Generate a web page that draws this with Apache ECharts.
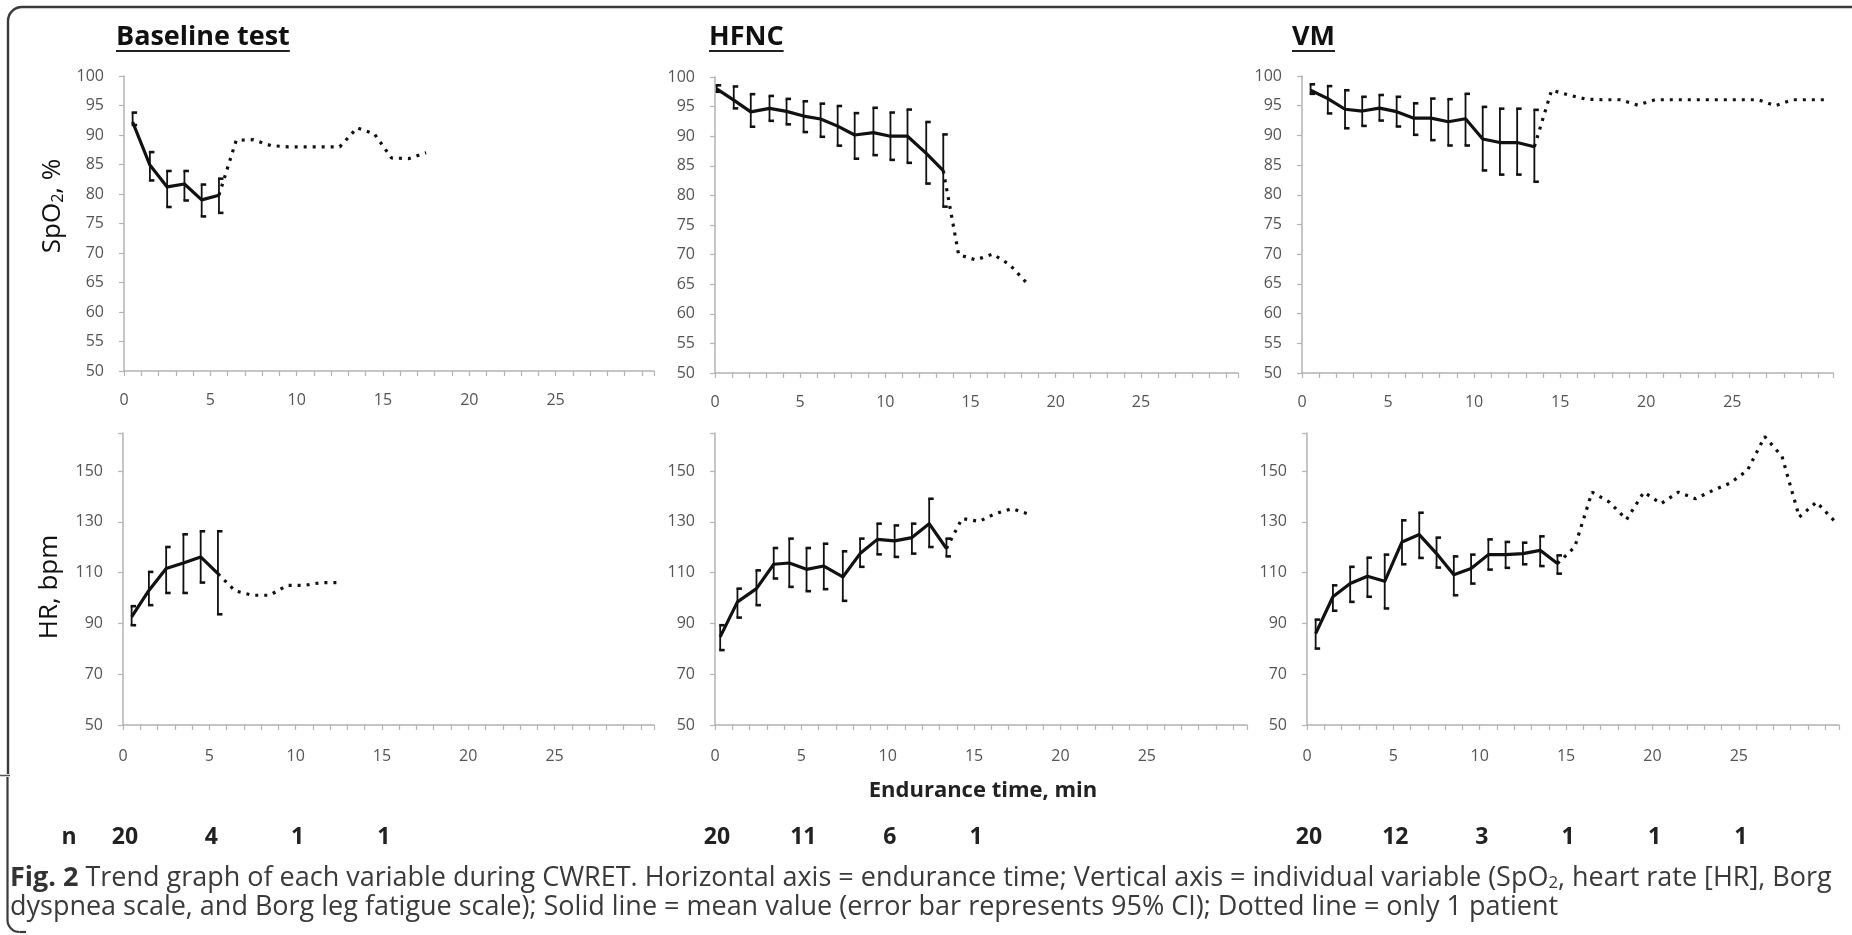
<!DOCTYPE html>
<html><head><meta charset="utf-8">
<script src="https://cdn.jsdelivr.net/npm/echarts@6/dist/echarts.min.js"></script>
<style>html,body{margin:0;padding:0;background:#fff}#c{width:1852px;height:935px}</style>
</head><body><div id="c"></div>
<script>
// ---------------- DATA ----------------
const panelTitles = ['Baseline test', 'HFNC', 'VM'];
const xTickLabels = [0, 5, 10, 15, 20, 25];
const xTitle = 'Endurance time, min';

// Baseline test – SpO2
const baseSpo2X = [0.5, 1.5, 2.5, 3.5, 4.5, 5.5];
const baseSpo2Mean = [92.2, 84.9, 81.2, 81.7, 79.0, 79.8];
const baseSpo2Lo = [91.7, 82.3, 77.8, 78.9, 76.2, 76.8];
const baseSpo2Hi = [93.8, 87.1, 83.9, 83.9, 81.6, 82.6];
const baseSpo2DotX = [5.5, 6.5, 7.5, 8.5, 9.5, 10.5, 11.5, 12.5, 13.5, 14.5, 15.5, 16.5, 17.5];
const baseSpo2Dot = [79.8, 89.1, 89.2, 88.2, 88, 88, 88, 88, 91.2, 90.2, 86.1, 86, 87];

// HFNC – SpO2
const hfncSpo2X = [0.1, 1.1, 2.1, 3.2, 4.2, 5.2, 6.2, 7.2, 8.2, 9.3, 10.3, 11.3, 12.4, 13.4];
const hfncSpo2Mean = [98.0, 96.1, 94.1, 94.7, 94.2, 93.4, 92.9, 91.7, 90.2, 90.6, 90.0, 90.0, 87.1, 84.2];
const hfncSpo2Lo = [97.5, 94.7, 91.6, 92.6, 92.0, 90.7, 89.9, 88.4, 86.2, 86.8, 86.0, 85.5, 82.0, 78.1];
const hfncSpo2Hi = [98.6, 98.4, 97.1, 96.8, 96.3, 95.9, 95.5, 95.1, 93.9, 94.8, 94.0, 94.5, 92.4, 90.3];
const hfncSpo2DotX = [13.4, 14.3, 15.3, 16.3, 17.3, 18.3];
const hfncSpo2Dot = [84.2, 70.0, 69.1, 70.1, 68.3, 65.2];

// VM – SpO2
const vmSpo2X = [0.5, 1.5, 2.5, 3.5, 4.5, 5.5, 6.5, 7.5, 8.5, 9.5, 10.5, 11.5, 12.5, 13.5];
const vmSpo2Mean = [97.6, 96.2, 94.4, 94.1, 94.6, 94.0, 92.9, 92.9, 92.3, 92.8, 89.4, 88.8, 88.8, 88.1];
const vmSpo2Lo = [97.0, 93.7, 91.2, 91.6, 92.5, 91.5, 90.1, 89.2, 88.3, 88.3, 84.1, 83.4, 83.4, 82.2];
const vmSpo2Hi = [98.6, 98.3, 97.6, 96.5, 96.8, 96.5, 95.4, 96.2, 96.1, 97.0, 94.8, 94.5, 94.5, 94.3];
const vmSpo2DotX = [13.5, 14.5, 15.5, 16.5, 17.5, 18.5, 19.5, 20.5, 21.5, 22.5, 23.5, 24.5, 25.5, 26.5, 27.5, 28.5, 29.5, 30.5];
const vmSpo2Dot = [88.1, 97.6, 96.8, 96.1, 96, 96, 95.1, 96, 96, 96, 96, 96, 96, 96, 95, 96, 96, 96];

// Baseline test – HR
const baseHrX = [0.5, 1.5, 2.5, 3.5, 4.5, 5.5];
const baseHrMean = [92.6, 103.0, 111.6, 113.8, 116.2, 109.6];
const baseHrLo = [89.3, 97.2, 102.0, 102.0, 106.1, 93.6];
const baseHrHi = [96.8, 110.3, 120.1, 125.1, 126.3, 126.3];
const baseHrDotX = [5.5, 6.5, 7.5, 8.5, 9.5, 10.5, 11.5, 12.5];
const baseHrDot = [109.6, 102.8, 101.1, 101.1, 105, 105, 106.1, 106.1];

// HFNC – HR
const hfncHrX = [0.3, 1.3, 2.4, 3.4, 4.3, 5.3, 6.3, 7.4, 8.4, 9.4, 10.4, 11.4, 12.4, 13.4];
const hfncHrMean = [84.7, 98.5, 103.7, 113.3, 113.8, 111.3, 112.6, 108.3, 117.5, 123.1, 122.5, 123.8, 129.3, 119.5];
const hfncHrLo = [79.5, 92.3, 97.2, 107.7, 104.4, 102.7, 103.5, 98.9, 112.3, 117.2, 116.2, 117.5, 120.1, 116.4];
const hfncHrHi = [89.3, 103.7, 110.9, 119.7, 123.4, 119.7, 121.4, 118.4, 123.4, 129.3, 128.6, 129.3, 139.1, 123.4];
const hfncHrDotX = [13.4, 14.3, 15.3, 16.2, 17.2, 18.1];
const hfncHrDot = [119.5, 131.3, 130.2, 133.2, 135.2, 133.2];

// VM – HR
const vmHrX = [0.5, 1.5, 2.5, 3.5, 4.5, 5.5, 6.5, 7.5, 8.5, 9.5, 10.5, 11.5, 12.5, 13.5, 14.5];
const vmHrMean = [86.0, 100.5, 105.7, 108.6, 106.6, 122.1, 125.0, 117.5, 109.2, 111.6, 117.1, 117.1, 117.5, 118.8, 113.6];
const vmHrLo = [80.1, 95.0, 98.5, 100.5, 95.9, 113.3, 115.8, 112.0, 101.1, 105.7, 111.2, 111.9, 113.3, 112.6, 109.6];
const vmHrHi = [91.5, 105.0, 112.3, 115.9, 117.1, 130.6, 133.6, 123.8, 116.4, 117.1, 123.1, 122.1, 121.8, 124.3, 116.8];
const vmHrDotX = [14.5, 15.5, 16.5, 17.5, 18.5, 19.5, 20.5, 21.5, 22.5, 23.5, 24.5, 25.5, 26.5, 27.5, 28.5, 29.5, 30.5];
const vmHrDot = [113.6, 120.1, 141.7, 137.8, 130.9, 141.7, 137.2, 141.7, 139.1, 142.4, 145.3, 150.3, 163.6, 155.8, 131.9, 137.8, 130.6];

// n (patients) shown under each column, at minutes 0, 5, 10, ...
const nMinutes = [0, 5, 10, 15, 20, 25];
const nBaseline = [20, 4, 1, 1];
const nHfnc = [20, 11, 6, 1];
const nVm = [20, 12, 3, 1, 1, 1];

const captionLine1 = ' Trend graph of each variable during CWRET. Horizontal axis = endurance time; Vertical axis = individual variable (SpO';
const captionLine1b = ', heart rate [HR], Borg';
const captionLine2 = 'dyspnea scale, and Borg leg fatigue scale); Solid line = mean value (error bar represents 95% CI); Dotted line = only 1 patient';

// ---------------- CHART ----------------
const FONT = "'Open Sans', 'Noto Sans', sans-serif";
const AX = '#b3b3b3';
const chart = echarts.init(document.getElementById('c'), null, {renderer: 'canvas'});

const grids = [
  {left: 124, top: 76, width: 530, height: 295},
  {left: 715, top: 77, width: 523, height: 296},
  {left: 1302, top: 76, width: 531, height: 297},
  {left: 123, top: 433, width: 531, height: 292},
  {left: 715, top: 433, width: 532, height: 292},
  {left: 1307, top: 433, width: 532, height: 292}
];
const xMax = [30.7, 30.7, 30.85, 30.76, 30.8, 30.8];

function mkX(gi) {
  return {
    type: 'value', gridIndex: gi, min: 0, max: xMax[gi], interval: 1,
    axisLine: {show: true, lineStyle: {color: AX, width: 1.5}},
    axisTick: {show: true, length: 5, lineStyle: {color: AX, width: 1.2}},
    axisLabel: {show: true, margin: gi < 3 ? 21 : 23, color: '#555', fontSize: 16, fontFamily: FONT,
      formatter: v => (xTickLabels.indexOf(v) >= 0 ? String(v) : '')},
    splitLine: {show: false}
  };
}
function mkY(gi, min, max, interval, shownMax) {
  return {
    type: 'value', gridIndex: gi, min: min, max: max, interval: interval,
    axisLine: {show: true, lineStyle: {color: AX, width: 1.5}},
    axisTick: {show: true, length: 5, lineStyle: {color: AX, width: 1.2}},
    axisLabel: {show: true, margin: 20, color: '#555', fontSize: 16, fontFamily: FONT,
      formatter: v => (v > shownMax ? '' : String(v))},
    splitLine: {show: false}
  };
}

function zip2(a, b) { return a.map((v, i) => [v, b[i]]); }
function zip3(a, b, c) { return a.map((v, i) => [v, b[i], c[i]]); }

function errRender(params, api) {
  const x = api.value(0), lo = api.value(1), hi = api.value(2);
  const pLo = api.coord([x, lo]), pHi = api.coord([x, hi]);
  const cap = 4.5;
  return {
    type: 'group',
    children: [
      {type: 'line', shape: {x1: pLo[0], y1: pLo[1], x2: pHi[0], y2: pHi[1]}, style: {stroke: '#111', lineWidth: 1.8}},
      {type: 'line', shape: {x1: pHi[0] - 1, y1: pHi[1], x2: pHi[0] + cap, y2: pHi[1]}, style: {stroke: '#111', lineWidth: 2.6}},
      {type: 'line', shape: {x1: pLo[0] - 1, y1: pLo[1], x2: pLo[0] + cap, y2: pLo[1]}, style: {stroke: '#111', lineWidth: 2.6}}
    ]
  };
}

const panels = [
  [baseSpo2X, baseSpo2Mean, baseSpo2Lo, baseSpo2Hi, baseSpo2DotX, baseSpo2Dot],
  [hfncSpo2X, hfncSpo2Mean, hfncSpo2Lo, hfncSpo2Hi, hfncSpo2DotX, hfncSpo2Dot],
  [vmSpo2X, vmSpo2Mean, vmSpo2Lo, vmSpo2Hi, vmSpo2DotX, vmSpo2Dot],
  [baseHrX, baseHrMean, baseHrLo, baseHrHi, baseHrDotX, baseHrDot],
  [hfncHrX, hfncHrMean, hfncHrLo, hfncHrHi, hfncHrDotX, hfncHrDot],
  [vmHrX, vmHrMean, vmHrLo, vmHrHi, vmHrDotX, vmHrDot]
];

const series = [];
panels.forEach((p, gi) => {
  series.push({
    type: 'custom', xAxisIndex: gi, yAxisIndex: gi, renderItem: errRender,
    encode: {x: 0, y: [1, 2]}, data: zip3(p[0], p[2], p[3]), z: 2, silent: true
  });
  series.push({
    type: 'line', xAxisIndex: gi, yAxisIndex: gi, data: zip2(p[4], p[5]), symbol: 'none',
    lineStyle: {color: '#111', width: 3.2, type: [3, 6], cap: 'butt'}, z: 3, silent: true
  });
  series.push({
    type: 'line', xAxisIndex: gi, yAxisIndex: gi, data: zip2(p[0], p[1]), symbol: 'none',
    lineStyle: {color: '#111', width: 3.2, join: 'round'}, z: 4, silent: true
  });
});

chart.setOption({
  animation: false,
  backgroundColor: '#fff',
  grid: grids.map(g => Object.assign({containLabel: false}, g)),
  xAxis: [0, 1, 2, 3, 4, 5].map(mkX),
  yAxis: [mkY(0, 50, 100, 5, 100), mkY(1, 50, 100, 5, 100), mkY(2, 50, 100, 5, 100),
          mkY(3, 50, 165, 20, 150), mkY(4, 50, 165, 20, 150), mkY(5, 50, 165, 20, 150)],
  series: series
});

// ---------------- ANNOTATIONS ----------------
const cv = document.createElement('canvas').getContext('2d');
function textW(txt, font) { cv.font = font; return cv.measureText(txt).width; }

const gfx = [];
// frame
gfx.push({type: 'polyline', shape: {points: [[1852, 7], [22, 7]]}, style: {stroke: '#3a3a3a', lineWidth: 2.4, fill: null}});
gfx.push({type: 'arc', shape: {cx: 22, cy: 21, r: 14, startAngle: Math.PI, endAngle: Math.PI * 1.5}, style: {stroke: '#3a3a3a', lineWidth: 2.4, fill: null}});
gfx.push({type: 'line', shape: {x1: 8, y1: 21, x2: 8, y2: 774}, style: {stroke: '#3a3a3a', lineWidth: 2.4}});
gfx.push({type: 'line', shape: {x1: 0, y1: 775.5, x2: 10, y2: 775.5}, style: {stroke: '#555', lineWidth: 1.5}});
gfx.push({type: 'line', shape: {x1: 7.5, y1: 777, x2: 7.5, y2: 920}, style: {stroke: '#3a3a3a', lineWidth: 2.2}});
gfx.push({type: 'arc', shape: {cx: 19.5, cy: 920, r: 12, startAngle: Math.PI / 2, endAngle: Math.PI}, style: {stroke: '#3a3a3a', lineWidth: 2.2, fill: null}});
gfx.push({type: 'line', shape: {x1: 19.5, y1: 932, x2: 26, y2: 932}, style: {stroke: '#3a3a3a', lineWidth: 2.2}});

// panel titles (underlined)
const titleX = [116, 709, 1292];
const titleFont = 'bold 27px ' + FONT;
panelTitles.forEach((t, i) => {
  const w = textW(t, titleFont);
  gfx.push({type: 'text', x: titleX[i], y: 37, style: {text: t, font: titleFont, fill: '#111', align: 'left', verticalAlign: 'middle'}});
  gfx.push({type: 'line', shape: {x1: titleX[i], y1: 51, x2: titleX[i] + w, y2: 51}, style: {stroke: '#222', lineWidth: 2}});
});

// y axis names
gfx.push({type: 'text', x: 50, y: 206, rotation: Math.PI / 2, style: {
  text: '{a|SpO}{s|2}{a|, %}', align: 'center', verticalAlign: 'middle',
  rich: {a: {fontSize: 26, fontFamily: FONT, fill: '#111', lineHeight: 32, verticalAlign: 'bottom'},
         s: {fontSize: 16, fontFamily: FONT, fill: '#111', lineHeight: 16, verticalAlign: 'bottom'}}
}});
gfx.push({type: 'text', x: 50, y: 587, rotation: Math.PI / 2, style: {
  text: 'HR, bpm', align: 'center', verticalAlign: 'middle', font: '26px ' + FONT, fill: '#111'
}});

// x axis title
gfx.push({type: 'text', x: 983, y: 791, style: {text: xTitle, font: 'bold 22px ' + FONT, fill: '#222', align: 'center', verticalAlign: 'middle'}});

// n row
const nFont = 'bold 23px ' + FONT;
gfx.push({type: 'text', x: 69, y: 837, style: {text: 'n', font: nFont, fill: '#222', align: 'center', verticalAlign: 'middle'}});
[[3, nBaseline], [4, nHfnc], [5, nVm]].forEach(([ai, arr]) => {
  arr.forEach((n, k) => {
    const px = chart.convertToPixel({xAxisIndex: ai}, nMinutes[k]);
    gfx.push({type: 'text', x: px + 2, y: 837, style: {text: String(n), font: nFont, fill: '#222', align: 'center', verticalAlign: 'middle'}});
  });
});

// caption
const fullLine1 = 'Fig. 2' + captionLine1 + '2' + captionLine1b;
const baseSize = 20;
const w20 = textW(fullLine1, baseSize + 'px ' + FONT);
const capSize = Math.max(16, Math.min(30, baseSize * 1825 / w20));
const capRich = {
  b: {fontSize: capSize, fontFamily: FONT, fontWeight: 'bold', fill: '#333', lineHeight: capSize * 1.3, verticalAlign: 'bottom'},
  r: {fontSize: capSize, fontFamily: FONT, fill: '#3a3a3a', lineHeight: capSize * 1.3, verticalAlign: 'bottom'},
  s: {fontSize: capSize * 0.62, fontFamily: FONT, fill: '#3a3a3a', lineHeight: capSize * 0.62, verticalAlign: 'bottom'}
};
gfx.push({type: 'text', x: 10, y: 874, style: {
  text: '{b|Fig. 2}{r|' + captionLine1 + '}{s|2}{r|' + captionLine1b + '}', rich: capRich, align: 'left', verticalAlign: 'middle'
}});
gfx.push({type: 'text', x: 10, y: 903, style: {
  text: '{r|' + captionLine2 + '}', rich: capRich, align: 'left', verticalAlign: 'middle'
}});

chart.setOption({graphic: gfx});
</script>
</body></html>
